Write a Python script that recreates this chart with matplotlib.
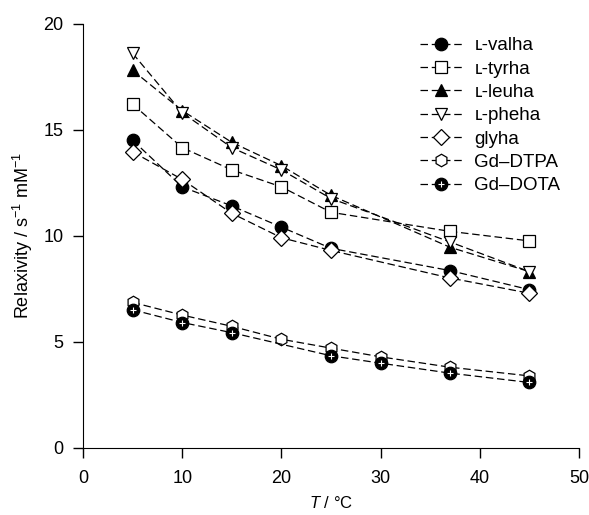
import numpy as np
import matplotlib
matplotlib.use('Agg')
import matplotlib.pyplot as plt
from matplotlib.lines import Line2D

plt.rcParams['font.family'] = ['Liberation Sans', 'DejaVu Sans']
plt.rcParams['mathtext.fontset'] = 'custom'
plt.rcParams['mathtext.it'] = 'Liberation Sans:italic'
plt.rcParams['mathtext.rm'] = 'Liberation Sans'

# temperatures (deg C)
T_ha = [5, 10, 15, 20, 25, 37, 45]
T_dtpa = [5, 10, 15, 20, 25, 30, 37, 45]
T_dota = [5, 10, 15, 25, 30, 37, 45]

# relaxivities (s^-1 mM^-1)
valha = [14.5, 12.3, 11.4, 10.4, 9.4, 8.35, 7.45]
tyrha = [16.2, 14.15, 13.1, 12.3, 11.1, 10.2, 9.75]
leuha = [17.8, 15.9, 14.4, 13.3, 11.9, 9.45, 8.3]
pheha = [18.6, 15.8, 14.15, 13.1, 11.75, 9.7, 8.3]
glyha = [13.95, 12.65, 11.05, 9.9, 9.3, 8.0, 7.28]
dtpa = [6.85, 6.25, 5.72, 5.11, 4.69, 4.28, 3.79, 3.38]
dota = [6.5, 5.9, 5.42, 4.33, 3.98, 3.51, 3.07]

labels = ['\u029f-valha', '\u029f-tyrha', '\u029f-leuha', '\u029f-pheha',
          'glyha', 'Gd\u2013DTPA', 'Gd\u2013DOTA']

fig = plt.figure(figsize=(5.89, 5.15), dpi=100)
ax = fig.add_axes([0.141, 0.131, 0.842, 0.823])

ls = dict(color='black', linestyle=(0, (6, 3)), linewidth=0.9, markeredgecolor='black',
          markeredgewidth=0.9, markersize=9)

ax.plot(T_ha, valha, marker='o', markerfacecolor='black', label=labels[0], **ls)
ax.plot(T_ha, tyrha, marker='s', markerfacecolor='white', label=labels[1], **dict(ls, markersize=8.5))
ax.plot(T_ha, leuha, marker='^', markerfacecolor='black', label=labels[2], **ls)
ax.plot(T_ha, pheha, marker='v', markerfacecolor='white', label=labels[3], **ls)
ax.plot(T_ha, glyha, marker='D', markerfacecolor='white', label=labels[4], **dict(ls, markersize=8))
ax.plot(T_dtpa, dtpa, marker='h', markerfacecolor='white', label=labels[5], **ls)
ax.plot(T_dota, dota, marker='o', markerfacecolor='black', **ls)
# white plus inside DOTA markers
ax.plot(T_dota, dota, linestyle='none', marker='+', color='white', markersize=4, markeredgewidth=0.8)

handles, labs = ax.get_legend_handles_labels()
dota_handle = (Line2D([], [], marker='o', markerfacecolor='black', **ls),
               Line2D([], [], linestyle='none', marker='+', color='white', markersize=4, markeredgewidth=0.8))
handles.append(dota_handle)
labs.append(labels[6])

ax.legend(handles, labs, loc='upper left', bbox_to_anchor=(0.697, 0.946), bbox_transform=fig.transFigure,
          frameon=False, fontsize=13.5, handlelength=2.3, handletextpad=0.6, labelspacing=0.33,
          borderpad=0, numpoints=1)

ax.set_xlim(0, 50)
ax.set_ylim(0, 20)
ax.set_xticks([0, 10, 20, 30, 40, 50])
ax.set_yticks([0, 5, 10, 15, 20])
ax.spines['top'].set_visible(False)
ax.spines['right'].set_visible(False)
ax.tick_params(direction='out', length=7, width=1, labelsize=13)
ax.tick_params(axis='x', pad=9)
ax.tick_params(axis='y', pad=7)
ax.set_xlabel('$T$ / \u00b0C', fontsize=12, labelpad=6)
ax.set_ylabel('Relaxivity / s$^{\u22121}$ mM$^{\u22121}$', fontsize=13, labelpad=6)

plt.savefig('out.png', dpi=100)
plt.close()
